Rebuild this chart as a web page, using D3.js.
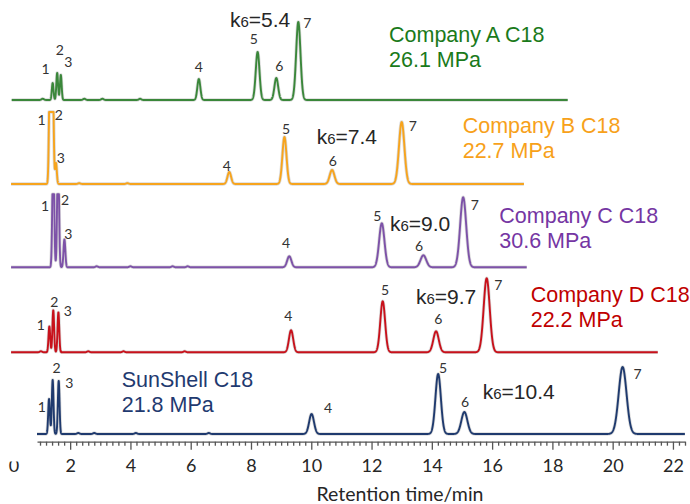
<!DOCTYPE html>
<html>
<head>
<meta charset="utf-8">
<script src="https://cdn.jsdelivr.net/npm/d3@7"></script>
<style>
  body { margin: 0; background: #fff; }
  svg { display: block; }
  .peaklabel { font-family: Lato, 'Open Sans', sans-serif; font-size: 14px; fill: #333; }
  .title { font-family: 'Liberation Sans', Arial, sans-serif; font-size: 21.5px; }
  .k6 { font-family: 'Liberation Sans', Arial, sans-serif; font-size: 21px; fill: #262626; }
  .axis text { font-family: Lato, 'Open Sans', sans-serif; font-size: 18px; fill: #262626; }
  .axis path, .axis line { stroke: #555; stroke-width: 1.3; }
  .xlabel { font-family: Lato, 'Open Sans', sans-serif; font-size: 19.5px; fill: #262626; }
</style>
</head>
<body>
<svg id="chart" width="690" height="504"></svg>
<script>
// column names, pressures, retention factor of peak 6
const columns = ['Company A C18', 'Company B C18', 'Company C C18', 'Company D C18', 'SunShell C18'];
const pressures = ['26.1 MPa', '22.7 MPa', '30.6 MPa', '22.2 MPa', '21.8 MPa'];
const k6 = ['5.4', '7.4', '9.0', '9.7', '10.4'];

// recorded time range of each trace (min)
const tStart = [0.06, 0.04, 0.04, 0.04, 0.9];
const tEnd = [18.51, 17.06, 17.15, 21.5, 22.4];

// peaks 1..7: retention time (min), height (signal), width sigma (min)
const timesA = [1.42, 1.57, 1.69, 6.27, 8.22, 8.84, 9.57];
const heightsA = [17, 27, 25, 21, 48, 22, 78];
const sigmaA = [0.028, 0.028, 0.028, 0.05, 0.062, 0.062, 0.072];

const timesB = [1.33, 1.42, 1.53, 7.28, 9.11, 10.69, 13.0];
const heightsB = [120, 120, 21, 12, 47, 14, 62];
const sigmaB = [0.03, 0.03, 0.028, 0.06, 0.068, 0.078, 0.09];

const timesC = [1.44, 1.6, 1.81, 9.27, 12.34, 13.72, 15.04];
const heightsC = [120, 120, 28, 11, 44, 12, 70];
const sigmaC = [0.03, 0.03, 0.03, 0.07, 0.088, 0.095, 0.1];

const timesD = [1.31, 1.44, 1.61, 9.33, 12.37, 14.14, 15.82];
const heightsD = [26, 42, 40, 22, 51, 21, 74];
const sigmaD = [0.028, 0.028, 0.028, 0.07, 0.08, 0.09, 0.1];

const timesS = [1.3, 1.42, 1.62, 10.01, 14.21, 15.08, 20.33];
const heightsS = [35, 54, 53, 20, 60, 22, 67];
const sigmaS = [0.028, 0.028, 0.028, 0.08, 0.09, 0.1, 0.13];

// small impurity bumps on the baselines
const minorTimesA = [1.09, 2.47, 3.07, 4.32];
const minorTimesB = [2.3, 3.9];
const minorTimesC = [2.88, 4.0, 5.4, 5.9];
const minorTimesD = [1.03, 2.6, 3.77, 5.8];
const minorTimesS = [2.27, 2.8, 4.18, 6.6];
const minorHeight = [1.2, 0.8, 1.0, 1.0, 1.0];

// axis ticks
const majorTicks = [2, 4, 6, 8, 10, 12, 14, 16, 18, 20, 22];
const minorTicks = d3.range(1, 22.41, 0.2).map(d => +d.toFixed(1));

const traces = [
    { times: timesA, heights: heightsA, sigma: sigmaA, minor: minorTimesA },
    { times: timesB, heights: heightsB, sigma: sigmaB, minor: minorTimesB },
    { times: timesC, heights: heightsC, sigma: sigmaC, minor: minorTimesC },
    { times: timesD, heights: heightsD, sigma: sigmaD, minor: minorTimesD },
    { times: timesS, heights: heightsS, sigma: sigmaS, minor: minorTimesS },
];

// layout
const lineColors = ['#3a873a', '#f7a41d', '#7d52a8', '#c8111b', '#1f3a6e'];
const textColors = ['#1a7a1a', '#f7a11a', '#7536a3', '#c00000', '#1f3a70'];
const baselines = [100, 184, 267.3, 352.3, 434];
const clipTop = [200, 72, 73, 200, 200];
const titlePos = [[389, 41.7], [462.7, 133.3], [499.3, 223.3], [530.7, 302.3], [121.7, 386.7]];
const k6Pos = [[230, 26.7], [316.7, 143.7], [390, 230.5], [416, 304], [482.7, 399]];
// label offsets from the apex of each peak
const labelOffsets = [
    [[-7, -14], [2.7, -23], [7.6, -13.7], [0, -13], [-3.7, -14], [3, -12.7], [9, 0]],
    [[-8.3, 7.7], [6.2, 2.7], [4.7, -5], [-2.6, -6.5], [1.7, -8.4], [0.7, -10], [11, 3.3]],
    [[-8.3, 10.7], [7, 5], [4, -6.3], [-3.3, -13.4], [-4.4, -8.3], [-4.3, -10], [11.7, 6.7]],
    [[-8.6, -2], [1, -9], [9.4, -2.3], [-2.7, -15], [2.3, -11.7], [2.3, -13.2], [11.6, 5.7]],
    [[-7.3, 7.4], [4, -12.7], [10.6, 1], [16.6, -6.7], [5, -6.7], [0.7, -10.6], [15, 6]],
];

const svg = d3.select('#chart');
const x = d3.scaleLinear().domain([0.9, 22.4]).range([37, 685]);

function signal(tr, i, t) {
    let s = 0;
    for (let p = 0; p < tr.times.length; p++) {
        const z = (t - tr.times[p]) / tr.sigma[p];
        s += tr.heights[p] * Math.exp(-0.5 * z * z);
    }
    for (let m = 0; m < tr.minor.length; m++) {
        const z = (t - tr.minor[m]) / 0.04;
        s += minorHeight[i] * Math.exp(-0.5 * z * z);
    }
    return s;
}

traces.forEach(function(tr, i) {
    const y = d3.scaleLinear()
        .domain([0, clipTop[i]])
        .range([baselines[i], baselines[i] - clipTop[i]])
        .clamp(true);

    const pts = d3.range(tStart[i], tEnd[i], 0.004).map(t => [t, signal(tr, i, t)]);
    const line = d3.line().x(d => x(d[0])).y(d => y(d[1]));

    const g = svg.append('g').classed('trace', true);
    // soft grey halo under the trace
    g.append('path').datum(pts)
        .attr('d', line)
        .attr('fill', 'none')
        .attr('stroke', '#999')
        .attr('stroke-opacity', 0.35)
        .attr('stroke-width', 3.4)
        .attr('stroke-linejoin', 'round');
    g.append('path').datum(pts)
        .attr('d', line)
        .attr('fill', 'none')
        .attr('stroke', lineColors[i])
        .attr('stroke-width', 1.9)
        .attr('stroke-linejoin', 'round');

    // peak numbers
    g.selectAll('text.peaklabel')
        .data(tr.times)
        .enter().append('text')
        .classed('peaklabel', true)
        .attr('x', (t, p) => x(t) + labelOffsets[i][p][0])
        .attr('y', (t, p) => y(signal(tr, i, t)) + labelOffsets[i][p][1])
        .attr('text-anchor', 'middle')
        .attr('dominant-baseline', 'central')
        .text((t, p) => p + 1);

    // column name and pressure
    const title = svg.append('text').classed('title', true)
        .attr('x', titlePos[i][0]).attr('y', titlePos[i][1])
        .attr('fill', textColors[i]);
    title.append('tspan').attr('x', titlePos[i][0]).text(columns[i]);
    title.append('tspan').attr('x', titlePos[i][0]).attr('dy', 25).text(pressures[i]);

    // k6 value
    const kt = svg.append('text').classed('k6', true)
        .attr('x', k6Pos[i][0]).attr('y', k6Pos[i][1]);
    kt.append('tspan').text('k');
    kt.append('tspan').style('font-size', '15px').text('6');
    kt.append('tspan').text('=' + k6[i]);
});

// x axis
const axisY = 441.7;
const axisG = svg.append('g').classed('axis', true).attr('transform', 'translate(0,' + axisY + ')');
axisG.call(d3.axisBottom(x).tickValues(majorTicks).tickSize(8).tickSizeOuter(0).tickPadding(8));
axisG.selectAll('.tick text').attr('dy', '0.78em');

const minorG = svg.append('g').classed('axis', true).attr('transform', 'translate(0,' + axisY + ')');
minorG.call(d3.axisBottom(x).tickValues(minorTicks.filter(d => majorTicks.indexOf(d) < 0)).tickSize(4).tickFormat(''));
minorG.select('.domain').remove();

// partly hidden "0" label at the far left
svg.append('clipPath').attr('id', 'zeroclip')
    .append('rect').attr('x', 0).attr('y', 461.5).attr('width', 30).attr('height', 20);
svg.append('text')
    .attr('clip-path', 'url(#zeroclip)')
    .attr('x', x(0) + 4).attr('y', axisY + 16)
    .attr('dy', '0.78em')
    .attr('text-anchor', 'middle')
    .style('font-family', 'Lato, sans-serif').style('font-size', '18px').style('fill', '#262626')
    .text(0);

svg.append('text').classed('xlabel', true)
    .attr('x', 400).attr('y', 501)
    .attr('text-anchor', 'middle')
    .text('Retention time/min');
</script>
</body>
</html>
